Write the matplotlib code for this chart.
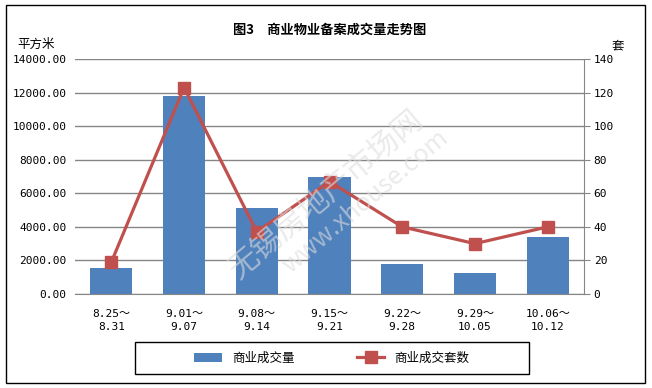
import matplotlib.pyplot as plt
import numpy as np
from matplotlib.patches import Rectangle

plt.rcParams['font.family'] = ['Noto Sans CJK SC', 'DejaVu Sans']

weeks = ['8.25～\n8.31', '9.01～\n9.07', '9.08～\n9.14', '9.15～\n9.21',
         '9.22～\n9.28', '9.29～\n10.05', '10.06～\n10.12']
area = [1550, 11800, 5120, 6970, 1790, 1250, 3400]      # 商业成交量 (平方米)
units = [19, 123, 37, 67, 40, 30, 40]                   # 商业成交套数 (套)
left_ticks = np.arange(0, 14001, 2000)
right_ticks = np.arange(0, 141, 20)

bar_color = '#4F81BD'
line_color = '#C0504D'
grid_color = '#868686'
num_font = ['DejaVu Sans Mono', 'Noto Sans CJK SC']

fig = plt.figure(figsize=(6.52, 3.88), dpi=100)
ax = fig.add_axes([75 / 652, 1 - 294 / 388, 509 / 652, 235 / 388])
ax2 = ax.twinx()

x = np.arange(len(weeks))
ax.bar(x, area, width=0.58, color=bar_color, zorder=2, label='商业成交量')
ax2.plot(x, units, color=line_color, lw=2.3, marker='s', ms=8,
         markeredgecolor=line_color, zorder=3, label='商业成交套数')

ax.set_xlim(-0.5, len(weeks) - 0.5)
ax.set_ylim(0, 14000)
ax2.set_ylim(0, 140)
ax.set_yticks(left_ticks)
ax.set_yticklabels([f'{v:.2f}' for v in left_ticks], fontsize=8, family=num_font)
ax2.set_yticks(right_ticks)
ax2.set_yticklabels([str(v) for v in right_ticks], fontsize=8, family=num_font)
ax.set_xticks(x)
ax.set_xticklabels(weeks, fontsize=8, linespacing=1.35, family=num_font)
ax.tick_params(axis='x', length=0, pad=11)
ax.tick_params(axis='y', length=0, pad=6)
ax2.tick_params(axis='y', length=4, color=grid_color, pad=3)

ax.yaxis.grid(True, color=grid_color, lw=1)
ax.set_axisbelow(True)
for a in (ax, ax2):
    for s in ('top', 'left', 'bottom'):
        a.spines[s].set_visible(False)
ax.spines['right'].set_visible(False)
ax2.spines['right'].set_color(grid_color)
ax2.spines['bottom'].set_visible(True)
ax2.spines['bottom'].set_color(grid_color)

fig.text(330 / 652, 1 - 30 / 388, '图3　商业物业备案成交量走势图', ha='center', va='center',
         fontsize=9.5, fontweight='bold')
fig.text(36 / 652, 1 - 44 / 388, '平方米', ha='center', va='center', fontsize=9)
fig.text(618 / 652, 1 - 46 / 388, '套', ha='center', va='center', fontsize=9)

# watermark
fig.text(0.5, 0.5, '无锡房地产市场网', rotation=40, ha='center', va='center',
         fontsize=22, color='#DDDDDD', alpha=0.6, zorder=5)
fig.text(0.56, 0.48, 'www.xhouse.com', rotation=40, ha='center', va='center',
         fontsize=18, color='#DDDDDD', alpha=0.6, zorder=5)

h1, l1 = ax.get_legend_handles_labels()
h2, l2 = ax2.get_legend_handles_labels()
fig.legend(h1 + h2, l1 + l2, loc='center', ncol=2, fontsize=9,
           bbox_to_anchor=(332 / 652, 1 - 358 / 388), frameon=False,
           handlelength=2.2, columnspacing=5, borderaxespad=0)
fig.patches.append(Rectangle((135 / 652, 1 - 374 / 388), 394 / 652, 32 / 388,
                             transform=fig.transFigure, fill=False,
                             edgecolor='black', lw=1))

fig.patches.append(Rectangle((5.5 / 652, 5 / 388), 639.5 / 652, 378 / 388,
                             transform=fig.transFigure, fill=False,
                             edgecolor='black', lw=1))

fig.savefig('out.png', dpi=100)
